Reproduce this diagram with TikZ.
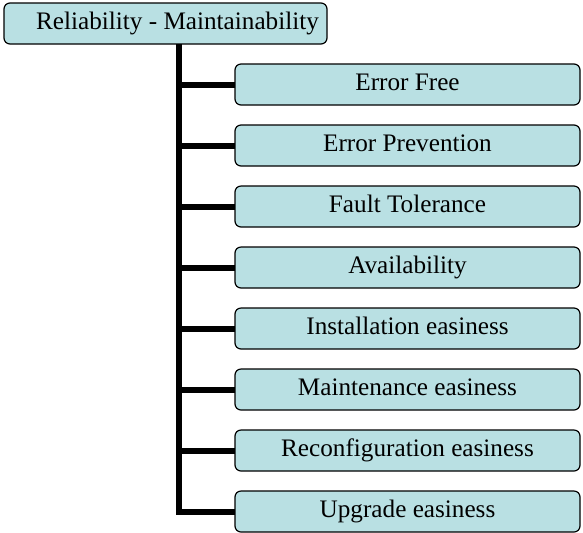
\documentclass[tikz,border=0pt]{standalone}
\usepackage{fontspec}
\setmainfont{Liberation Serif}
\usetikzlibrary{positioning}
\definecolor{boxfill}{RGB}{185,224,227}
\tikzset{
    item/.style={draw, rectangle, rounded corners=3pt, fill=boxfill, line width=0.6pt,
                 minimum height=20.5pt, minimum width=172.5pt, inner sep=0pt, outer sep=0pt,
                 text height=8.5pt, text depth=2.5pt, font=\fontsize{12.6}{14}\selectfont},
    branch/.style={line width=3pt}
}
\begin{document}
\begin{tikzpicture}[
                    node distance=10pt
                    ]
    \useasboundingbox (0,0) rectangle (291.5pt,-266pt);

    \node [item, anchor=north west, minimum width=161.5pt] (root) at (2pt,-1.5pt) {\hspace*{12pt}Reliability - Maintainability};
    \coordinate (trunk) at (89.5pt,0);

    \node [item, anchor=north west] (errfree) at (117.5pt,-32pt) {Error Free};
    \node [item, below = of errfree] (errprev) {Error Prevention};
    \node [item, below = of errprev] (fault) {Fault Tolerance};
    \node [item, below = of fault] (avail) {Availability};
    \node [item, below = of avail] (install) {Installation easiness};
    \node [item, below = of install] (maint) {Maintenance easiness};
    \node [item, below = of maint] (reconf) {Reconfiguration easiness};
    \node [item, below = of reconf] (upgrade) {Upgrade easiness};

    % trunk and branches
    \draw [branch] (root.south -| trunk) |- (upgrade.west);
    \draw [branch] (trunk |- errfree.west) -- (errfree.west);
    \draw [branch] (trunk |- errprev.west) -- (errprev.west);
    \draw [branch] (trunk |- fault.west) -- (fault.west);
    \draw [branch] (trunk |- avail.west) -- (avail.west);
    \draw [branch] (trunk |- install.west) -- (install.west);
    \draw [branch] (trunk |- maint.west) -- (maint.west);
    \draw [branch] (trunk |- reconf.west) -- (reconf.west);
\end{tikzpicture}
\end{document}
